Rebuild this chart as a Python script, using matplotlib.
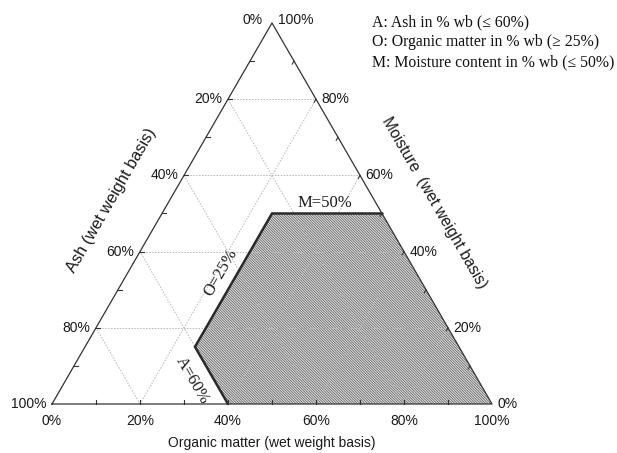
import numpy as np
import matplotlib
matplotlib.use("Agg")
import matplotlib.pyplot as plt
from matplotlib.patches import Polygon

# ---- data ----
tick_values = [0, 20, 40, 60, 80, 100]
minor_values = [10, 30, 50, 70, 90]
grid_values = [20, 40, 60, 80]
# constraint limits
ash_max = 60       # A <= 60
organic_min = 25   # O >= 25
moisture_max = 50  # M <= 50
legend_lines = ["A: Ash in % wb (\u2264 60%)",
                "O: Organic matter in % wb (\u2265 25%)",
                "M: Moisture content in % wb (\u2264 50%)"]

S3 = np.sqrt(3) / 2


def tern(a, o, m):
    """(ash, organic, moisture) -> cartesian"""
    return o + m / 2.0, m * S3


W, H = 617, 453
fig = plt.figure(figsize=(W / 100, H / 100), dpi=100)
ax = fig.add_axes([0, 0, 1, 1])
sc = 4.4
ax.set_xlim(-52 / sc, (W - 52) / sc)
ax.set_ylim(-(H - 404) / sc, 404 / sc)
ax.axis("off")


def px(x, y):
    return (x - 52) / sc, (404 - y) / sc


sans = "Liberation Sans"
serif = "Liberation Serif"

# grid lines (dotted)
gkw = dict(color="#b5b5b5", lw=0.7, ls=(0, (1.5, 1.5)), zorder=3)
for v in grid_values:
    x0, y0 = tern(100 - v, 0, v); x1, y1 = tern(0, 100 - v, v)
    ax.plot([x0, x1], [y0, y1], **gkw)
    x0, y0 = tern(100 - v, v, 0); x1, y1 = tern(0, v, 100 - v)
    ax.plot([x0, x1], [y0, y1], **gkw)
    x0, y0 = tern(v, 100 - v, 0); x1, y1 = tern(v, 0, 100 - v)
    ax.plot([x0, x1], [y0, y1], **gkw)

# feasible region
A, O, M = ash_max, organic_min, moisture_max
pts = [tern(100 - O - M, O, M),          # O=25, M=50
       tern(0, 100 - M, M),              # right edge M=50
       tern(0, 100, 0),                  # bottom right
       tern(A, 100 - A, 0),              # A=60 on bottom
       tern(A, O, 100 - A - O)]          # A=60, O=25
matplotlib.rcParams["hatch.linewidth"] = 0.45
poly = Polygon(pts, closed=True, facecolor="#dcdcdc", edgecolor="#4c4c4c", lw=0,
               hatch="\\" * 13, zorder=2)
ax.add_patch(poly)
# thick boundary lines
bkw = dict(color="#2a2a2a", lw=1.8, zorder=4, solid_capstyle="round")
ax.plot([pts[0][0], pts[1][0]], [pts[0][1], pts[1][1]], **bkw)
ax.plot([pts[3][0], pts[4][0]], [pts[3][1], pts[4][1]], **bkw)
ax.plot([pts[4][0], pts[0][0]], [pts[4][1], pts[0][1]], **bkw)

# triangle frame
tri = [tern(100, 0, 0), tern(0, 100, 0), tern(0, 0, 100), tern(100, 0, 0)]
ax.plot([p[0] for p in tri], [p[1] for p in tri], color="#333333", lw=0.9, zorder=5)

# tick marks
tl = 0.8
for v in minor_values + grid_values:
    x, y = tern(100 - v, v, 0)
    ax.plot([x, x], [y, y + tl], color="#333", lw=0.8, zorder=5)
    x, y = tern(v, 0, 100 - v)
    ax.plot([x, x + tl], [y, y], color="#333", lw=0.8, zorder=5)
    x, y = tern(0, 100 - v, v)
    ax.plot([x, x - tl * 0.5], [y, y - tl * S3], color="#333", lw=0.8, zorder=5)

tfs = 10
tc = "#1a1a1a"
# tick labels
for v in tick_values:
    x, y = tern(100 - v, v, 0)
    ax.text(x, px(0, 421)[1], f"{v}%", ha="center", va="center", fontsize=tfs, family=sans, color=tc)
for v in tick_values:
    x, y = tern(v, 0, 100 - v)
    if v == 0:
        ax.text(px(263, 0)[0], px(0, 20)[1], f"{v}%", ha="right", va="center", fontsize=tfs, family=sans, color=tc)
    else:
        ax.text(x - 1.3, y, f"{v}%", ha="right", va="center", fontsize=tfs, family=sans, color=tc)
for v in tick_values:
    x, y = tern(0, 100 - v, v)
    if v == 100:
        ax.text(px(278, 0)[0], px(0, 20)[1], f"{v}%", ha="left", va="center", fontsize=tfs, family=sans, color=tc)
    else:
        ax.text(x + 1.3, y, f"{v}%", ha="left", va="center", fontsize=tfs, family=sans, color=tc)

# axis titles
ax.text(*px(272, 443), "Organic matter (wet weight basis)", ha="center", va="center",
        fontsize=tfs, family=sans, color=tc)
ax.text(*px(111, 200), "Ash (wet weight basis)", ha="center", va="center",
        rotation=60, rotation_mode="anchor", fontsize=11.8, family=sans, color=tc)
ax.text(*px(434, 203), "Moisture  (wet weight basis)", ha="center", va="center",
        rotation=-60, rotation_mode="anchor", fontsize=11.3, family=sans, color=tc)

# constraint labels
ax.text(*px(325, 203), "M=50%", ha="center", va="center", fontsize=12,
        family=serif, color=tc)
ax.text(*px(221, 273), "O=25%", ha="center", va="center", rotation=60,
        rotation_mode="anchor", fontsize=12, family=serif, color=tc)
ax.text(*px(192, 381), "A=60%", ha="center", va="center", rotation=-60,
        rotation_mode="anchor", fontsize=12, family=serif, color=tc)

# legend text
for i, s in enumerate(legend_lines):
    ax.text(*px(372, 22 + 20 * i), s, ha="left", va="center",
            fontsize=11.3, family=serif, color="#111")

fig.savefig("out.png", dpi=100)
